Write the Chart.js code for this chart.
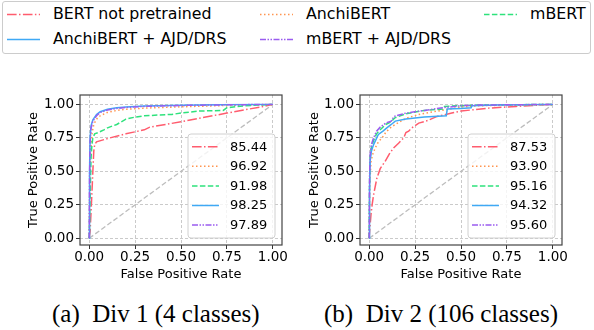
<!DOCTYPE html>
<html>
<head>
<meta charset="utf-8">
<script src="https://cdn.jsdelivr.net/npm/chart.js@4.4.0/dist/chart.umd.min.js"></script>
<style>
  body { margin: 0; background: #fff; width: 594px; height: 330px; position: relative; overflow: hidden; font-family: 'DejaVu Sans', sans-serif; }
  #legend { position: absolute; left: 2px; top: 1px; width: 589px; height: 53px; border: 1px solid #cccccc; border-radius: 3px; box-sizing: border-box; }
  .item { position: absolute; font-size: 15.8px; line-height: 18px; color: #000; white-space: nowrap; }
  .item svg { position: absolute; left: -46px; top: 8px; }
  canvas { position: absolute; }
  .cap { position: absolute; font-family: 'Liberation Serif', 'Times New Roman', serif; font-size: 25px; line-height: 28px; color: #000; white-space: nowrap; }
</style>
</head>
<body>
<div id="legend"></div>
<canvas id="div1" width="297" height="215" style="left:0;top:75px"></canvas>
<canvas id="div2" width="297" height="215" style="left:297px;top:75px"></canvas>
<div class="cap" style="left:52px;top:300px">(a)&nbsp; Div 1 (4 classes)</div>
<div class="cap" style="left:324px;top:300px">(b)&nbsp; Div 2 (106 classes)</div>
<script>
// Curvas ROC (FPR / TPR)
const modelNames = ['BERT not pretrained', 'AnchiBERT', 'mBERT', 'AnchiBERT + AJD/DRS', 'mBERT + AJD/DRS'];
const tickValues = [0, 0.25, 0.5, 0.75, 1];

// Div 1 (4 classes)
const div1Auc = ['85.44', '96.92', '91.98', '98.25', '97.89'];
const div1BertFpr = [0, 0.005, 0.012, 0.02, 0.025, 0.03, 0.04, 0.1, 0.2, 0.3, 0.33, 0.5, 0.75, 0.95, 1];
const div1BertTpr = [0, 0.05, 0.25, 0.5, 0.65, 0.7, 0.72, 0.745, 0.78, 0.81, 0.83, 0.87, 0.935, 0.985, 1];
const div1AnchiFpr = [0, 0.003, 0.008, 0.015, 0.025, 0.04, 0.06, 0.1, 0.15, 0.2, 0.3, 0.5, 0.7, 1];
const div1AnchiTpr = [0, 0.4, 0.65, 0.78, 0.85, 0.89, 0.915, 0.94, 0.955, 0.963, 0.972, 0.982, 0.99, 1];
const div1MbertFpr = [0, 0.005, 0.01, 0.015, 0.02, 0.03, 0.05, 0.08, 0.1, 0.15, 0.2, 0.25, 0.3, 0.45, 0.5, 0.6, 0.73, 0.75, 0.85, 1];
const div1MbertTpr = [0, 0.3, 0.6, 0.7, 0.75, 0.78, 0.79, 0.81, 0.825, 0.85, 0.89, 0.905, 0.915, 0.925, 0.935, 0.95, 0.955, 0.975, 0.99, 1];
const div1AnchiAjdFpr = [0, 0.002, 0.005, 0.01, 0.02, 0.04, 0.06, 0.1, 0.15, 0.2, 0.3, 0.5, 0.7, 1];
const div1AnchiAjdTpr = [0, 0.5, 0.75, 0.84, 0.885, 0.925, 0.945, 0.963, 0.975, 0.98, 0.987, 0.993, 0.997, 1];
const div1MbertAjdFpr = [0, 0.002, 0.005, 0.01, 0.02, 0.04, 0.06, 0.1, 0.15, 0.2, 0.3, 0.5, 0.7, 1];
const div1MbertAjdTpr = [0, 0.45, 0.72, 0.82, 0.875, 0.915, 0.94, 0.958, 0.97, 0.977, 0.985, 0.992, 0.996, 1];

// Div 2 (106 classes)
const div2Auc = ['87.53', '93.90', '95.16', '94.32', '95.60'];
const div2BertFpr = [0, 0.004, 0.01, 0.016, 0.024, 0.042, 0.06, 0.087, 0.11, 0.133, 0.16, 0.188, 0.2, 0.215, 0.233, 0.27, 0.32, 0.37, 0.45, 0.5, 0.65, 0.8, 1];
const div2BertTpr = [0, 0.08, 0.18, 0.25, 0.325, 0.45, 0.52, 0.575, 0.63, 0.675, 0.71, 0.75, 0.79, 0.8, 0.825, 0.86, 0.88, 0.91, 0.935, 0.95, 0.972, 0.985, 1];
const div2AnchiFpr = [0, 0.003, 0.01, 0.02, 0.033, 0.05, 0.07, 0.09, 0.115, 0.142, 0.2, 0.27, 0.35, 0.415, 0.5, 0.6, 1];
const div2AnchiTpr = [0, 0.4, 0.575, 0.63, 0.675, 0.72, 0.75, 0.79, 0.825, 0.85, 0.895, 0.925, 0.945, 0.96, 0.98, 0.99, 1];
const div2MbertFpr = [0, 0.002, 0.005, 0.012, 0.024, 0.04, 0.06, 0.09, 0.12, 0.14, 0.2, 0.3, 0.4, 0.41, 0.5, 0.6, 1];
const div2MbertTpr = [0, 0.4, 0.6, 0.68, 0.73, 0.78, 0.81, 0.85, 0.87, 0.9, 0.93, 0.955, 0.965, 0.985, 0.99, 0.995, 1];
const div2AnchiAjdFpr = [0, 0.002, 0.005, 0.012, 0.024, 0.05, 0.075, 0.096, 0.12, 0.142, 0.2, 0.3, 0.42, 0.425, 0.5, 0.555, 0.56, 0.7, 1];
const div2AnchiAjdTpr = [0, 0.35, 0.575, 0.65, 0.7, 0.775, 0.8, 0.825, 0.85, 0.875, 0.89, 0.905, 0.915, 0.965, 0.97, 0.975, 0.99, 0.995, 1];
const div2MbertAjdFpr = [0, 0.002, 0.005, 0.012, 0.024, 0.04, 0.06, 0.09, 0.12, 0.135, 0.2, 0.3, 0.4, 0.5, 0.6, 1];
const div2MbertAjdTpr = [0, 0.45, 0.62, 0.7, 0.75, 0.8, 0.83, 0.86, 0.875, 0.91, 0.935, 0.955, 0.975, 0.99, 0.995, 1];

const chanceFpr = [0, 1];
const chanceTpr = [0, 1];

// estilos das linhas (cor + tracejado), na ordem de modelNames
const lineColors = ['#ff5c6e', '#ff9550', '#2ee27c', '#3fa9f5', '#9a5cf0'];
const lineDashes = [[9.6, 2.4, 1.5, 2.4], [1.5, 2.5], [5.5, 2.4], [], [6, 1.5, 1.5, 1.5, 1.5, 1.5]];

const toPoints = (xs, ys) => xs.map((x, i) => ({ x, y: ys[i] }));

// legenda superior em HTML
const legendEl = document.getElementById('legend');
const legendPos = [[53, 14], [306, 14], [530, 14], [53, 38.5], [306, 38.5]];
modelNames.forEach((name, i) => {
  const div = document.createElement('div');
  div.className = 'item';
  div.style.left = (legendPos[i][0] - 3) + 'px';
  div.style.top = (legendPos[i][1] - 2 - 9) + 'px';
  const dash = lineDashes[i].length ? lineDashes[i].join(' ') : 'none';
  div.innerHTML = '<svg width="33" height="3"><line x1="0" y1="1.5" x2="33" y2="1.5" stroke="' + lineColors[i] +
    '" stroke-width="1.6" stroke-dasharray="' + dash + '"/></svg>' + name;
  legendEl.appendChild(div);
});

// moldura do eixo (as 4 bordas)
const framePlugin = {
  id: 'frame',
  afterDatasetsDraw(chart) {
    const a = chart.chartArea;
    const ctx = chart.ctx;
    ctx.save();
    ctx.strokeStyle = '#444';
    ctx.lineWidth = 1.2;
    ctx.strokeRect(a.left, a.top, a.right - a.left, a.bottom - a.top);
    ctx.restore();
  }
};

// legenda interna com os valores de AUC
const aucLegendPlugin = {
  id: 'aucLegend',
  afterDraw(chart, args, opts) {
    const a = chart.chartArea;
    const ctx = chart.ctx;
    const bx = a.right - 94, by = a.top + 39, bw = 87, bh = 104;
    ctx.save();
    ctx.beginPath();
    ctx.roundRect(bx, by, bw, bh, 3);
    ctx.fillStyle = 'rgba(255,255,255,0.8)';
    ctx.fill();
    ctx.strokeStyle = '#d0d0d0';
    ctx.lineWidth = 1;
    ctx.stroke();
    ctx.font = '13px "DejaVu Sans"';
    ctx.textBaseline = 'middle';
    ctx.fillStyle = '#000';
    opts.labels.forEach((label, i) => {
      const y = by + 12.7 + i * 19.6;
      ctx.beginPath();
      ctx.setLineDash(lineDashes[i]);
      ctx.strokeStyle = lineColors[i];
      ctx.lineWidth = 1.5;
      ctx.moveTo(bx + 4, y);
      ctx.lineTo(bx + 31, y);
      ctx.stroke();
      ctx.setLineDash([]);
      ctx.fillText(label, bx + 42, y + 0.5);
    });
    ctx.restore();
  }
};

function axis(title, isX, fitSize) {
  return {
    type: 'linear',
    min: -0.05,
    max: isX ? 1.05 : 1.07,
    afterBuildTicks: s => { s.ticks = tickValues.map(v => ({ value: v })); },
    afterFit: s => { if (isX) s.height = fitSize; else s.width = fitSize; },
    ticks: {
      callback: v => Number(v).toFixed(2),
      color: '#000',
      font: { family: 'DejaVu Sans', size: 13.5 },
      padding: isX ? 0 : 2,
      maxRotation: 0,
      autoSkip: false
    },
    grid: { color: '#c4c4c4', lineWidth: 0.9, tickColor: '#333', tickLength: 4, tickWidth: 1 },
    border: { display: false, dash: [3, 2] },
    title: {
      display: true,
      text: title,
      color: '#000',
      font: { family: 'DejaVu Sans', size: 13 },
      padding: isX ? { top: 0, bottom: 8 } : { top: 0, bottom: 0 }
    }
  };
}

function renderPanel(id, curves, aucs, padLeft, yWidth, padRight) {
  const datasets = curves.map((c, i) => ({
    data: toPoints(c[0], c[1]),
    borderColor: lineColors[i],
    borderDash: lineDashes[i],
    borderWidth: 1.5,
    showLine: true,
    pointRadius: 0,
    fill: false,
    order: 5 - i
  }));
  datasets.push({
    data: toPoints(chanceFpr, chanceTpr),
    borderColor: '#bdbdbd',
    borderDash: [5, 2.5],
    borderWidth: 1.3,
    showLine: true,
    pointRadius: 0,
    order: 10
  });
  new Chart(document.getElementById(id), {
    type: 'scatter',
    data: { datasets },
    options: {
      responsive: false,
      animation: false,
      layout: { padding: { left: padLeft, right: padRight, top: 20, bottom: 0 } },
      plugins: { legend: { display: false }, tooltip: { enabled: false }, aucLegend: { labels: aucs } },
      scales: {
        x: axis('False Positive Rate', true, 45),
        y: axis('True Positive Rate', false, yWidth)
      }
    },
    plugins: [framePlugin, aucLegendPlugin]
  });
}

renderPanel('div1', [
  [div1BertFpr, div1BertTpr],
  [div1AnchiFpr, div1AnchiTpr],
  [div1MbertFpr, div1MbertTpr],
  [div1AnchiAjdFpr, div1AnchiAjdTpr],
  [div1MbertAjdFpr, div1MbertAjdTpr]
], div1Auc, 26, 54, 15);

renderPanel('div2', [
  [div2BertFpr, div2BertTpr],
  [div2AnchiFpr, div2AnchiTpr],
  [div2MbertFpr, div2MbertTpr],
  [div2AnchiAjdFpr, div2AnchiAjdTpr],
  [div2MbertAjdFpr, div2MbertAjdTpr]
], div2Auc, 10, 53, 32);
</script>
</body>
</html>
